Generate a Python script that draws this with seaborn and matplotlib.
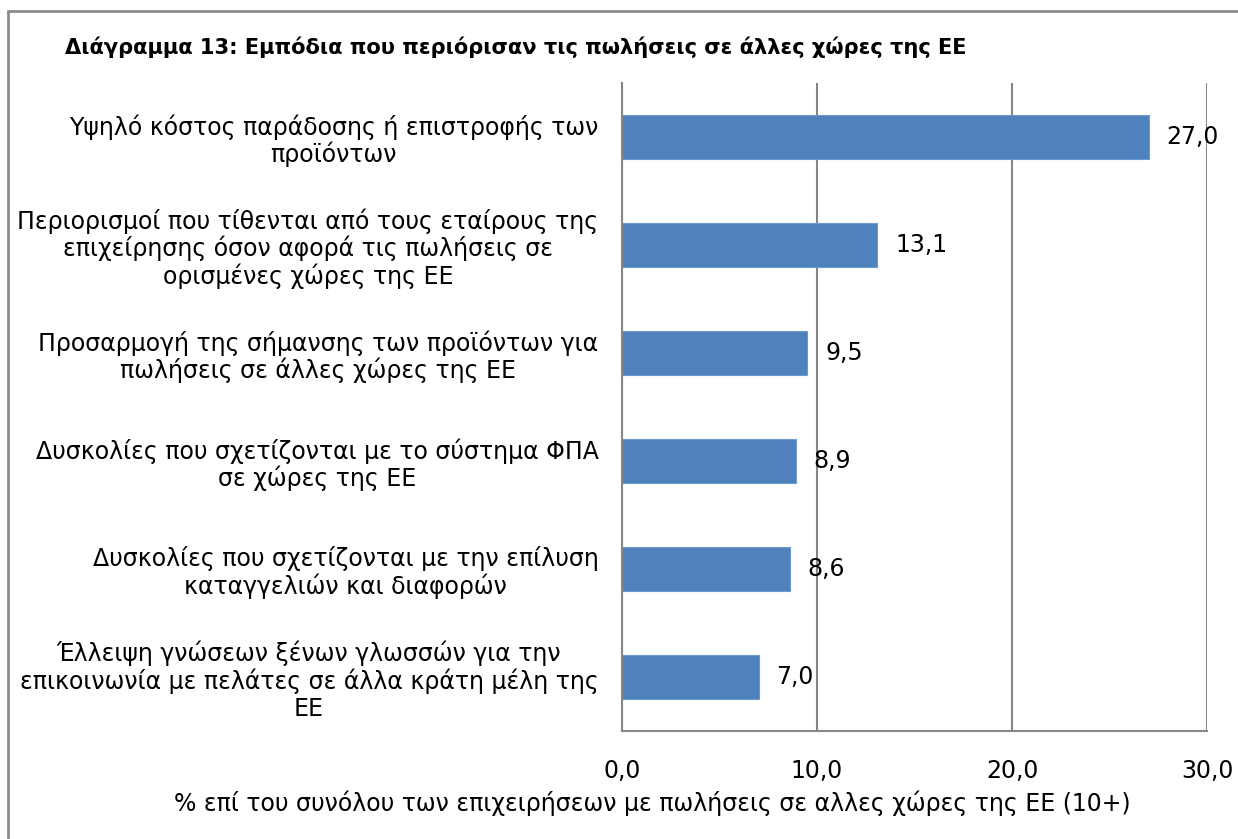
import pandas as pd
import matplotlib
matplotlib.use("Agg")
import matplotlib.pyplot as plt
import seaborn as sns
from matplotlib.lines import Line2D

# Δεδομένα
categories = [
    "Υψηλό κόστος παράδοσης ή επιστροφής των\nπροϊόντων",
    "Περιορισμοί που τίθενται από τους εταίρους της\nεπιχείρησης όσον αφορά τις πωλήσεις σε\nορισμένες χώρες της ΕΕ",
    "Προσαρμογή της σήμανσης των προϊόντων για\nπωλήσεις σε άλλες χώρες της ΕΕ",
    "Δυσκολίες που σχετίζονται με το σύστημα ΦΠΑ\nσε χώρες της ΕΕ",
    "Δυσκολίες που σχετίζονται με την επίλυση\nκαταγγελιών και διαφορών",
    "Έλλειψη γνώσεων ξένων γλωσσών για την\nεπικοινωνία με πελάτες σε άλλα κράτη μέλη της\nΕΕ",
]
values = [27.0, 13.1, 9.5, 8.9, 8.6, 7.0]
x_ticks = [0, 10, 20, 30]
x_tick_labels = ["0,0", "10,0", "20,0", "30,0"]

title = "Διάγραμμα 13: Εμπόδια που περιόρισαν τις πωλήσεις σε άλλες χώρες της ΕΕ"
xlabel = "% επί του συνόλου των επιχειρήσεων με πωλήσεις σε αλλες χώρες της ΕΕ (10+)"

BAR_COLOR = "#4F81BD"
GRID_COLOR = "#868686"


def main():
    sns.set_style("white")
    plt.rcParams["font.family"] = ["DejaVu Sans"]
    plt.rcParams["text.color"] = "black"
    plt.rcParams["xtick.color"] = "black"
    plt.rcParams["ytick.color"] = "black"

    df = pd.DataFrame({"category": categories, "value": values})

    fig = plt.figure(figsize=(12.38, 8.39), dpi=100)
    ax = fig.add_axes([622 / 1238, 1 - 731 / 839, (1207 - 622) / 1238, (731 - 83) / 839])

    sns.barplot(data=df, x="value", y="category", orient="h", color=BAR_COLOR,
                width=0.4, saturation=1, edgecolor="#6f9ad0", linewidth=0.8, ax=ax)

    ax.set_xlim(0, 30)
    ax.set_ylim(len(categories) - 0.5, -0.5)

    # Πλέγμα
    ax.set_xticks(x_ticks)
    ax.set_xticklabels(x_tick_labels, fontsize=17)
    ax.grid(axis="x", color=GRID_COLOR, linewidth=1.5)
    ax.set_axisbelow(True)

    # Υποδιαιρέσεις στον άξονα y στα όρια των κατηγοριών
    ax.set_yticks([i - 0.5 for i in range(len(categories) + 1)])
    ax.set_yticklabels([""] * (len(categories) + 1))
    ax.set_yticks(range(len(categories)), minor=True)
    ax.set_yticklabels(categories, minor=True, fontsize=17, linespacing=1.12)
    for t in ax.get_yticklabels(minor=True):
        t.set_multialignment("center")
    ax.tick_params(axis="y", which="minor", length=0, pad=17, colors="black")
    ax.tick_params(axis="y", which="major", length=7, width=1.5, color=GRID_COLOR, direction="out")
    ax.tick_params(axis="x", length=7, width=1.5, color=GRID_COLOR, direction="out", pad=13,
                   labelcolor="black")
    ax.set_ylabel("")
    ax.set_xlabel("")

    for side in ["top", "right"]:
        ax.spines[side].set_visible(False)
    for side in ["left", "bottom"]:
        ax.spines[side].set_color(GRID_COLOR)
        ax.spines[side].set_linewidth(1.5)

    # Ετικέτες τιμών
    for i, v in enumerate(values):
        ax.annotate(f"{v:.1f}".replace(".", ","), xy=(v, i), xytext=(13, 0),
                    textcoords="offset points", va="center", ha="left", fontsize=17,
                    color="black")

    fig.text(652 / 1238, 1 - 803 / 839, xlabel, fontsize=17, va="center", ha="center",
             color="black")

    fig.text(65 / 1238, 1 - 47 / 839, title, fontsize=15.1, fontweight="bold",
             va="center", ha="left", color="black")

    # Περίγραμμα γραφήματος
    fig.add_artist(Line2D([8 / 1238, 8 / 1238], [0, 1 - 11 / 839],
                          transform=fig.transFigure, color="#8c8c8c", linewidth=2))
    fig.add_artist(Line2D([8 / 1238, 1], [1 - 11 / 839, 1 - 11 / 839],
                          transform=fig.transFigure, color="#8c8c8c", linewidth=2))

    fig.savefig("out.png", dpi=100, facecolor="white")
    plt.close(fig)


if __name__ == "__main__":
    main()
